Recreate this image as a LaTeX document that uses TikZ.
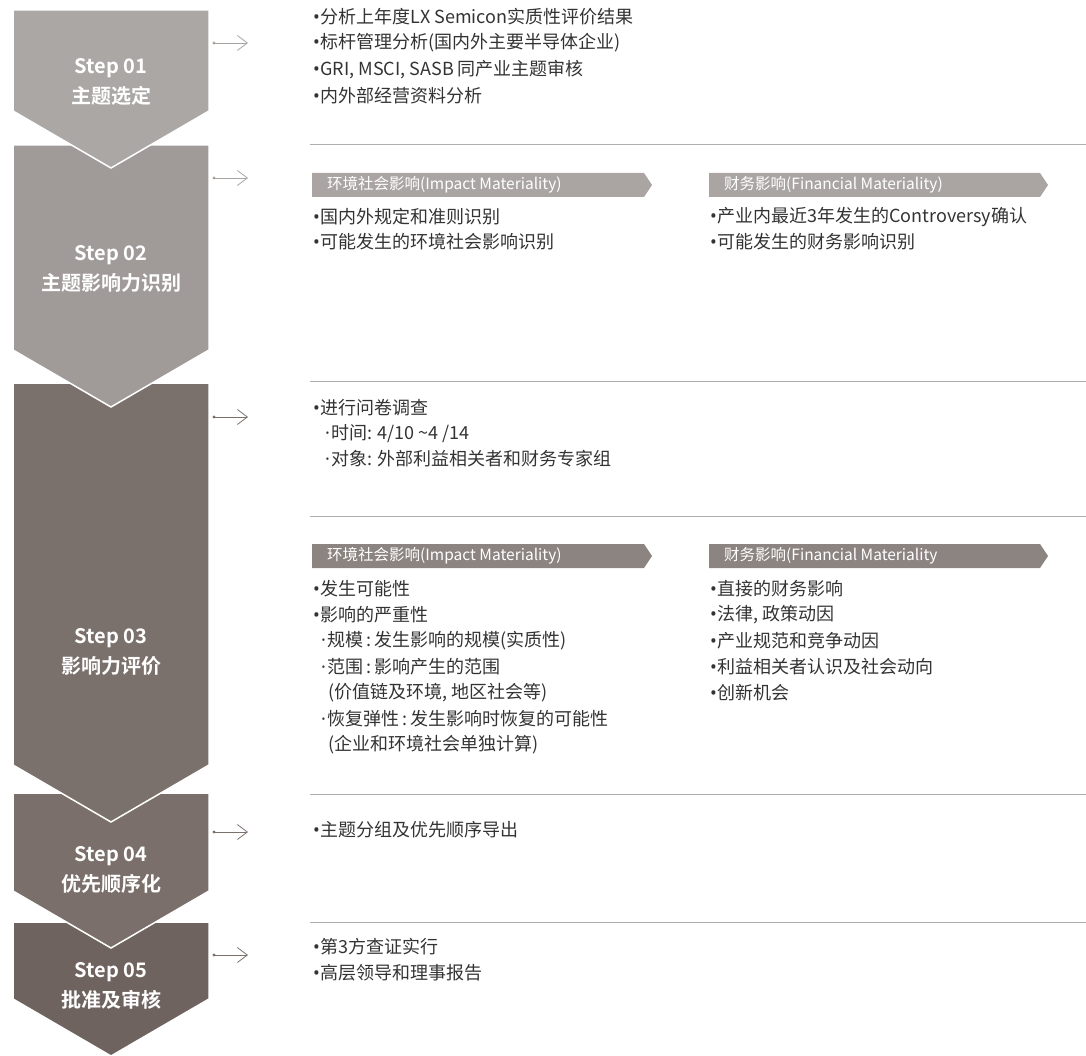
\documentclass[tikz,border=0pt]{standalone}
\usepackage{fontspec}
\setmainfont{Noto Sans CJK SC}[BoldFont={Noto Sans CJK SC Bold}]
\newfontfamily\latinf{Noto Sans}
\newcommand\bul{{\latinf •}\kern0.5pt}
\newcommand\mdot{{\latinf ·}\kern1pt}
\usetikzlibrary{arrows.meta}
\definecolor{cA}{HTML}{ABA7A5}
\definecolor{cB}{HTML}{A09B98}
\definecolor{cC}{HTML}{7B716C}
\definecolor{cD}{HTML}{7A6F6A}
\definecolor{cE}{HTML}{6F635F}
\definecolor{tagA}{HTML}{AAA5A3}
\definecolor{tagB}{HTML}{8C8480}
\definecolor{arrA}{HTML}{A8A4A2}
\definecolor{arrB}{HTML}{7B716C}
\definecolor{sepc}{HTML}{AEAEAE}
\definecolor{txt}{HTML}{333333}
\begin{document}
\begin{tikzpicture}[x=1pt,y=-1pt,
  chev/.style={draw=white,line width=1.5pt,line join=miter},
  steplabel/.style={text=white,align=center,inner sep=0pt,font=\bfseries\fontsize{20}{30}\selectfont},
  item/.style={anchor=west,inner sep=0pt,text=txt,font=\fontsize{18}{26}\selectfont},
  tagtext/.style={anchor=west,inner sep=0pt,text=white,font=\fontsize{15.5}{18}\selectfont},
  sepline/.style={draw=sepc,line width=1pt},
  conn/.style={line width=0.8pt,-{Straight Barb[length=10pt,width=15pt,line width=0.8pt]}}
]
\useasboundingbox (0,0) rectangle (1086,1056);
% chevrons (bottom first so upper ones overlap)
\path[chev,fill=cE] (13,922) -- (209,922) -- (209,999) -- (111,1056) -- (13,999) -- cycle;
\path[chev,fill=cD] (13,793) -- (209,793) -- (209,891) -- (111,948) -- (13,891) -- cycle;
\path[chev,fill=cC] (13,383) -- (209,383) -- (209,765) -- (111,822) -- (13,765) -- cycle;
\path[chev,fill=cB] (13,145) -- (209,145) -- (209,350) -- (111,407) -- (13,350) -- cycle;
\path[chev,fill=cA] (13,10) -- (209,10) -- (209,111) -- (111,168) -- (13,111) -- cycle;
% step labels
\node[steplabel] (s1) at (111,82) {Step 01\\主题选定};
\node[steplabel] (s2) at (111,269) {Step 02\\主题影响力识别};
\node[steplabel] (s3) at (111,652) {Step 03\\影响力评价};
\node[steplabel] (s4) at (111,870) {Step 04\\优先顺序化};
\node[steplabel] (s5) at (111,986) {Step 05\\批准及审核};
% connectors
\foreach \n/\y/\c in {1/43/arrA,2/178/arrA,3/417/arrB,4/832/arrB,5/955/arrB}{
  \coordinate (a\n s) at (214,\y);
  \coordinate (a\n e) at (248,\y);
  \fill[\c] (a\n s) circle (1.7);
  \draw[conn,draw=\c] (a\n s) -- (a\n e);
}
% separators
\foreach \y in {145,381,516,794,922}{
  \draw[sepline] (310,\y) -- (1086,\y);
}
% step 1
\node[item] (t11) at (313,17) {\bul 分析上年度LX Semicon实质性评价结果};
\node[item] (t12) at (313,43) {\bul 标杆管理分析(国内外主要半导体企业)};
\node[item] (t13) at (313,70) {\bul GRI, MSCI, SASB 同产业主题审核};
\node[item] (t14) at (313,96) {\bul 内外部经营资料分析};
% step 2 tags
\path[fill=tagA] (312,173) -- (644,173) -- (652,185) -- (644,197) -- (312,197) -- cycle;
\path[fill=tagA] (709,173) -- (1040,173) -- (1048,185) -- (1040,197) -- (709,197) -- cycle;
\node[tagtext] (g21) at (327,185) {环境社会影响(Impact Materiality)};
\node[tagtext] (g22) at (724,185) {财务影响(Financial Materiality)};
\node[item] (t21) at (313,217) {\bul 国内外规定和准则识别};
\node[item] (t22) at (313,242) {\bul 可能发生的环境社会影响识别};
\node[item] (t23) at (710,217) {\bul 产业内最近3年发生的Controversy确认};
\node[item] (t24) at (710,242) {\bul 可能发生的财务影响识别};
% step 3a
\node[item] (t31) at (313,408) {\bul 进行问卷调查};
\node[item] (t32) at (325,434) {\mdot 时间: 4/10 \textasciitilde 4 /14};
\node[item] (t33) at (325,459) {\mdot 对象: 外部利益相关者和财务专家组};
% step 3b tags
\path[fill=tagB] (312,544) -- (644,544) -- (652,556) -- (644,568) -- (312,568) -- cycle;
\path[fill=tagB] (709,544) -- (1040,544) -- (1048,556) -- (1040,568) -- (709,568) -- cycle;
\node[tagtext] (g31) at (327,556) {环境社会影响(Impact Materiality)};
\node[tagtext] (g32) at (724,556) {财务影响(Financial Materiality};
\node[item] (t41) at (313,589) {\bul 发生可能性};
\node[item] (t42) at (313,615) {\bul 影响的严重性};
\node[item] (t43) at (321,641) {\mdot 规模\,:\,发生影响的规模(实质性)};
\node[item] (t44) at (321,667) {\mdot 范围\,:\,影响产生的范围};
\node[item] (t45) at (328,693) {(价值链及环境, 地区社会等)};
\node[item] (t46) at (321,719) {\mdot 恢复弹性\,:\,发生影响时恢复的可能性};
\node[item] (t47) at (328,745) {(企业和环境社会单独计算)};
\node[item] (t51) at (710,589) {\bul 直接的财务影响};
\node[item] (t52) at (710,615) {\bul 法律, 政策动因};
\node[item] (t53) at (710,641) {\bul 产业规范和竞争动因};
\node[item] (t54) at (710,667) {\bul 利益相关者认识及社会动向};
\node[item] (t55) at (710,693) {\bul 创新机会};
% step 4
\node[item] (t61) at (313,830) {\bul 主题分组及优先顺序导出};
% step 5
\node[item] (t71) at (313,947) {\bul 第3方查证实行};
\node[item] (t72) at (313,973) {\bul 高层领导和理事报告};
\end{tikzpicture}
\end{document}
